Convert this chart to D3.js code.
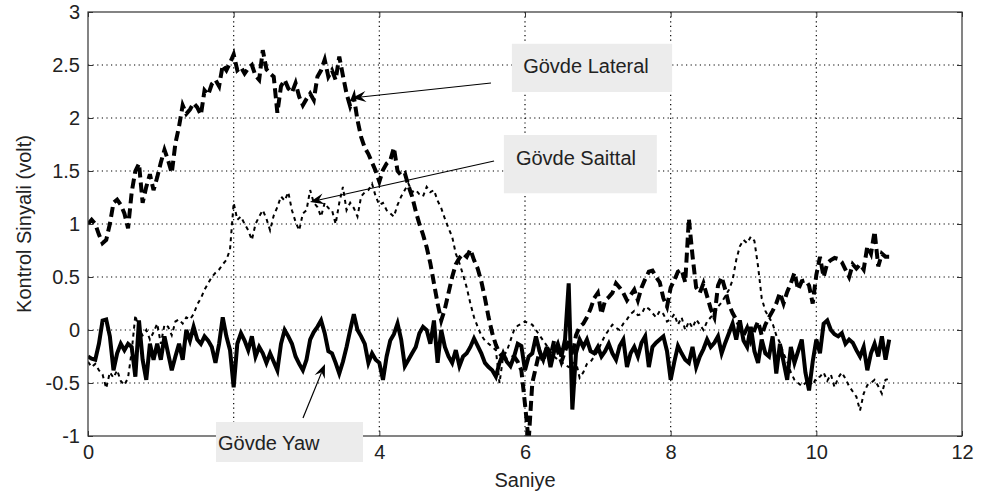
<!DOCTYPE html>
<html>
<head>
<meta charset="utf-8">
<script src="https://cdn.jsdelivr.net/npm/d3@7"></script>
<style>
  body { margin: 0; background: #fff; }
  svg text { font-family: "Liberation Sans", Arial, sans-serif; fill: #222; }
</style>
</head>
<body>
<svg width="981" height="498"></svg>
<script>
// sample spacing of the recorded signals (s)
const timeStep = 0.05;

// Gövde Lateral (dashed)
const lateral = [
  1.0,1.04,1.0,0.9,0.82,0.85,1.0,1.2,1.23,1.18,1.1,0.96,1.3,1.5,1.57,1.2,1.35,1.47,1.32,1.44,
  1.58,1.7,1.6,1.48,1.76,1.92,2.12,2.04,2.08,2.14,2.1,2.03,2.26,2.22,2.32,2.36,2.3,2.5,2.45,2.52,
  2.6,2.45,2.48,2.42,2.47,2.5,2.4,2.36,2.64,2.46,2.42,2.39,2.05,2.3,2.36,2.28,2.24,2.33,2.2,2.12,
  2.18,2.23,2.17,2.39,2.45,2.55,2.39,2.45,2.36,2.58,2.4,2.23,2.11,2.2,1.98,1.82,1.72,1.66,1.58,1.5,
  1.4,1.51,1.57,1.6,1.72,1.5,1.46,1.48,1.36,1.26,1.12,1.0,0.9,0.78,0.63,0.44,0.25,0.09,0.2,0.35,
  0.5,0.62,0.68,0.72,0.69,0.76,0.66,0.58,0.46,0.3,0.12,-0.03,-0.14,-0.22,-0.26,-0.28,-0.27,-0.25,-0.3,-0.38,
  -0.7,-1.05,-0.5,-0.35,-0.2,-0.3,-0.15,-0.25,-0.1,-0.2,-0.3,-0.2,-0.1,-0.25,-0.05,0.03,0.06,0.12,0.2,0.3,
  0.35,0.15,0.28,0.31,0.35,0.44,0.4,0.35,0.28,0.33,0.38,0.28,0.4,0.48,0.55,0.56,0.5,0.45,0.3,0.22,
  0.4,0.47,0.55,0.57,0.45,1.05,0.7,0.4,0.35,0.44,0.32,0.2,0.12,0.42,0.5,0.38,0.24,0.16,0.1,0.03,
  -0.05,0.02,-0.1,0.0,0.08,-0.05,0.05,0.12,0.18,0.25,0.35,0.25,0.36,0.44,0.54,0.38,0.46,0.47,0.42,0.25,
  0.52,0.69,0.5,0.63,0.66,0.68,0.67,0.64,0.57,0.5,0.62,0.58,0.62,0.57,0.79,0.72,0.93,0.6,0.72,0.69,
  0.69
];

// Gövde Saittal (dotted)
const saittal = [
  -0.3,-0.35,-0.32,-0.38,-0.42,-0.55,-0.4,-0.45,-0.38,-0.48,-0.52,-0.45,-0.2,0.14,0.0,-0.05,0.0,-0.09,-0.02,0.06,
  -0.13,0.05,0.03,-0.05,0.08,0.1,0.06,0.12,0.1,0.15,0.24,0.3,0.38,0.44,0.5,0.54,0.57,0.62,0.66,0.76,
  1.2,1.04,1.07,1.0,0.94,0.85,1.0,1.07,1.13,1.05,0.94,1.08,1.16,1.26,1.22,1.3,1.13,1.02,0.94,1.1,
  1.13,1.32,1.2,1.16,1.07,1.2,1.15,1.13,1.0,1.2,1.35,1.13,1.2,1.15,1.07,1.26,1.3,1.32,1.38,1.26,
  1.18,1.2,1.13,1.1,1.07,1.18,1.26,1.32,1.38,1.3,1.32,1.28,1.26,1.35,1.3,1.32,1.22,1.15,1.05,0.96,
  0.88,0.72,0.63,0.52,0.4,0.25,0.12,0.03,-0.05,-0.1,-0.13,-0.16,-0.19,-0.5,-0.25,-0.2,-0.1,0.0,0.04,0.06,
  0.08,0.06,0.05,0.0,-0.05,-0.1,-0.15,-0.2,-0.25,-0.28,-0.3,-0.33,-0.35,-0.32,-0.3,-0.45,-0.4,-0.32,-0.3,-0.25,
  -0.2,-0.12,-0.05,0.0,0.05,0.02,0.0,0.06,0.1,0.15,0.18,0.14,0.15,0.22,0.2,0.16,0.12,0.18,0.15,0.08,
  0.1,0.15,0.05,0.12,0.0,0.08,0.02,0.1,0.05,0.0,0.08,0.12,0.15,0.22,0.26,0.32,0.38,0.47,0.66,0.79,
  0.85,0.82,0.88,0.84,0.6,0.3,0.18,0.12,0.06,-0.05,-0.12,-0.22,-0.3,-0.4,-0.47,-0.5,-0.53,-0.5,-0.47,-0.52,
  -0.45,-0.44,-0.4,-0.48,-0.42,-0.54,-0.45,-0.4,-0.46,-0.53,-0.58,-0.63,-0.76,-0.6,-0.52,-0.5,-0.47,-0.53,-0.6,-0.47,
  -0.46
];

// Gövde Yaw (solid)
const yaw = [
  -0.25,-0.27,-0.28,-0.13,0.09,0.1,-0.06,-0.38,-0.22,-0.13,-0.19,-0.13,-0.16,-0.44,0.09,-0.28,-0.47,-0.13,-0.28,-0.13,
  -0.28,-0.06,-0.22,-0.38,-0.25,-0.13,-0.28,0.0,-0.1,0.03,-0.09,-0.13,-0.06,-0.1,-0.16,-0.31,-0.13,0.12,-0.06,-0.19,
  -0.54,-0.13,-0.03,-0.1,-0.19,-0.06,-0.25,-0.16,-0.22,-0.31,-0.22,-0.3,-0.38,-0.13,0.0,-0.06,-0.13,-0.25,-0.32,-0.38,
  -0.28,-0.09,-0.02,0.03,0.09,-0.03,-0.2,-0.22,-0.31,-0.41,-0.3,-0.16,0.0,0.15,0.0,-0.06,-0.13,-0.31,-0.22,-0.28,
  -0.31,-0.47,-0.25,-0.1,-0.04,0.06,-0.09,-0.34,-0.28,-0.22,-0.16,-0.03,0.03,0.0,-0.13,0.09,-0.31,0.0,-0.16,-0.25,
  -0.31,-0.19,-0.34,-0.25,-0.22,-0.16,-0.08,-0.15,-0.22,-0.31,-0.35,-0.38,-0.44,-0.31,-0.22,-0.3,-0.34,-0.25,-0.13,-0.15,
  -0.38,-0.25,-0.22,-0.06,-0.2,-0.28,-0.16,-0.35,-0.2,-0.13,-0.25,-0.09,0.44,-0.75,-0.22,-0.09,-0.16,-0.09,-0.2,-0.22,
  -0.16,-0.25,-0.2,-0.13,-0.22,-0.28,-0.15,-0.09,-0.35,-0.22,-0.16,-0.25,-0.12,-0.06,-0.35,-0.16,-0.12,-0.09,-0.06,-0.2,
  -0.47,-0.3,-0.15,-0.22,-0.28,-0.31,-0.16,-0.35,-0.25,-0.18,-0.09,-0.16,-0.12,-0.06,-0.22,-0.12,-0.03,0.06,-0.09,0.09,
  -0.1,-0.16,0.03,-0.2,-0.31,-0.09,-0.22,-0.25,-0.06,-0.41,-0.13,-0.3,-0.47,-0.16,-0.31,-0.2,-0.09,-0.4,-0.57,-0.3,
  -0.09,-0.22,0.06,0.09,0.0,-0.04,-0.06,-0.03,-0.13,-0.09,-0.12,-0.19,-0.25,-0.16,-0.38,-0.22,-0.13,-0.25,-0.06,-0.28,
  -0.09
];

const xTicks = [0, 2, 4, 6, 8, 10, 12];
const yTicks = [-1, -0.5, 0, 0.5, 1, 1.5, 2, 2.5, 3];
// the "2" label sits under the Gövde Yaw box in the original, so it is not shown
const hiddenXLabels = [2];

// annotation text boxes and arrows, in data units
const labels = ["Gövde Lateral", "Gövde Saittal", "Gövde Yaw"];
const labelBoxes = [[5.82, 8.02, 2.70, 2.245], [5.71, 7.81, 1.84, 1.29], [1.757, 3.776, -0.868, -1.245]];
const labelText = [[5.975, 2.425], [5.875, 1.557], [1.785, -1.132]];
const arrows = [[5.533, 2.33, 3.625, 2.189], [5.575, 1.594, 3.048, 1.208], [2.952, -0.83, 3.254, -0.321]];

const margin = { top: 12, right: 19, bottom: 62, left: 88 };
const width = 981 - margin.left - margin.right;
const height = 498 - margin.top - margin.bottom;

const svg = d3.select('svg');
const g = svg.append('g').attr('transform', `translate(${margin.left},${margin.top})`);

const x = d3.scaleLinear().domain([0, 12]).range([0, width]);
const y = d3.scaleLinear().domain([-1, 3]).range([height, 0]);

svg.append('defs').append('clipPath').attr('id', 'plotClip')
    .append('rect').attr('width', width).attr('height', height);

// grid
g.append('g').selectAll('line').data(xTicks.slice(1, -1)).join('line')
    .attr('x1', d => x(d)).attr('x2', d => x(d))
    .attr('y1', 0).attr('y2', height)
    .attr('stroke', '#000').attr('stroke-width', 1.2).attr('stroke-dasharray', '1.2,3.4');
g.append('g').selectAll('line').data(yTicks.slice(1, -1)).join('line')
    .attr('y1', d => y(d)).attr('y2', d => y(d))
    .attr('x1', 0).attr('x2', width)
    .attr('stroke', '#000').attr('stroke-width', 1.2).attr('stroke-dasharray', '1.2,3.4');

// series
const line = d3.line()
    .x((d, i) => x(i * timeStep))
    .y(d => y(d));

const plot = g.append('g').attr('clip-path', 'url(#plotClip)');

plot.append('path').datum(saittal)
    .attr('fill', 'none').attr('stroke', '#000')
    .attr('stroke-width', 2).attr('stroke-dasharray', '4,4')
    .attr('d', line);

plot.append('path').datum(lateral)
    .attr('fill', 'none').attr('stroke', '#000')
    .attr('stroke-width', 4).attr('stroke-dasharray', '10,5')
    .attr('d', line);

plot.append('path').datum(yaw)
    .attr('fill', 'none').attr('stroke', '#000')
    .attr('stroke-width', 4)
    .attr('d', line);

// axes, ticks point inward on all sides
const axisStyle = sel => {
    sel.select('.domain').remove();
    sel.selectAll('line').attr('stroke', '#333');
    sel.selectAll('text').style('font-size', '20px').attr('fill', '#222');
};

g.append('g').attr('transform', `translate(0,${height})`)
    .call(d3.axisBottom(x).tickValues(xTicks).tickSize(-5).tickPadding(9)
        .tickFormat(d => hiddenXLabels.includes(d) ? '' : d3.format('d')(d)))
    .call(axisStyle);
g.append('g')
    .call(d3.axisTop(x).tickValues(xTicks).tickSize(-5).tickFormat(''))
    .call(axisStyle);
g.append('g')
    .call(d3.axisLeft(y).tickValues(yTicks).tickSize(-5).tickPadding(8).tickFormat(d => d))
    .call(axisStyle);
g.append('g').attr('transform', `translate(${width},0)`)
    .call(d3.axisRight(y).tickValues(yTicks).tickSize(-5).tickFormat(''))
    .call(axisStyle);

g.append('rect')
    .attr('width', width).attr('height', height)
    .attr('fill', 'none').attr('stroke', '#333').attr('stroke-width', 1.2);

// axis titles
g.append('text')
    .attr('x', width / 2).attr('y', height + 51)
    .attr('text-anchor', 'middle').style('font-size', '20px')
    .text('Saniye');

g.append('text')
    .attr('transform', `translate(${31 - margin.left},${height / 2}) rotate(-90)`)
    .attr('text-anchor', 'middle').style('font-size', '20px')
    .text('Kontrol Sinyali (volt)');

// annotations
const notes = g.append('g');
labels.forEach((label, i) => {
    const b = labelBoxes[i];
    notes.append('rect')
        .attr('x', x(b[0])).attr('y', y(b[2]))
        .attr('width', x(b[1]) - x(b[0])).attr('height', y(b[3]) - y(b[2]))
        .attr('fill', '#ececec');
    notes.append('text')
        .attr('x', x(labelText[i][0])).attr('y', y(labelText[i][1]))
        .style('font-size', '20px')
        .text(label);

    const a = arrows[i];
    const x0 = x(a[0]), y0 = y(a[1]), x1 = x(a[2]), y1 = y(a[3]);
    const ang = Math.atan2(y1 - y0, x1 - x0);
    const len = 14, half = 5.5, notch = 9;
    const ux = Math.cos(ang), uy = Math.sin(ang);
    notes.append('line')
        .attr('x1', x0).attr('y1', y0)
        .attr('x2', x1 - ux * notch).attr('y2', y1 - uy * notch)
        .attr('stroke', '#000').attr('stroke-width', 1.2);
    const head = [
        [x1, y1],
        [x1 - ux * len - uy * half, y1 - uy * len + ux * half],
        [x1 - ux * notch, y1 - uy * notch],
        [x1 - ux * len + uy * half, y1 - uy * len - ux * half]
    ];
    notes.append('path')
        .attr('d', 'M' + head.map(p => p.join(',')).join('L') + 'Z')
        .attr('fill', '#000');
});
</script>
</body>
</html>
